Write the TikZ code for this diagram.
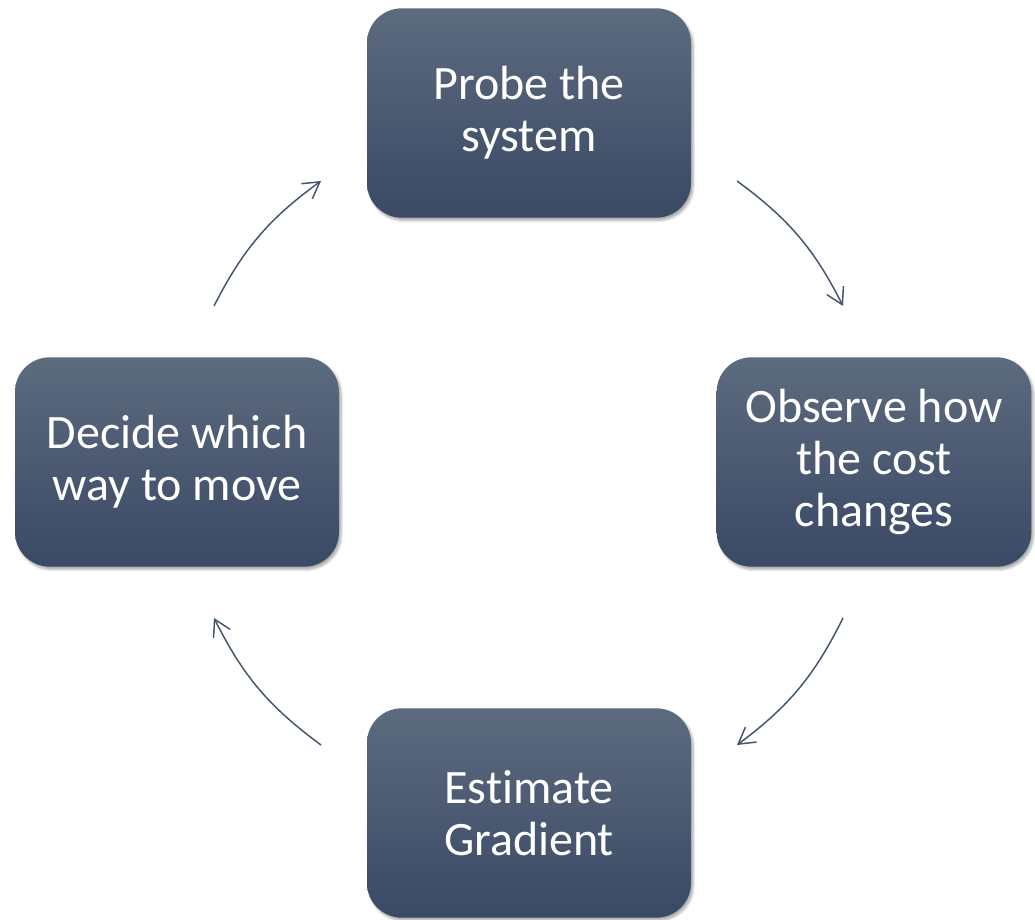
\documentclass[tikz,border=0pt]{standalone}
\usepackage{fontspec}
\setmainfont{Carlito}[Ligatures=CommonOff]
\usetikzlibrary{arrows.meta,shadows.blur}

\definecolor{boxtop}{HTML}{5D6B7F}
\definecolor{boxbot}{HTML}{3A4965}
\definecolor{loopcol}{HTML}{44546A}

\tikzset{
  stepbox/.style={rectangle, rounded corners=26pt, minimum width=243pt, minimum height=157pt,
    top color=boxtop, bottom color=boxbot, text=white, align=center,
    font=\fontsize{36}{39}\selectfont,
    blur shadow={shadow xshift=1.5pt, shadow yshift=-2pt, shadow blur steps=6, shadow opacity=35}},
  looparrow/.style={draw=loopcol, line width=1.1pt, bend left=13.5,
    -{Straight Barb[length=12pt,width=14pt]}}
}

\begin{document}
\begin{tikzpicture}[x=0.75pt,y=0.75pt]
\useasboundingbox (0,0) rectangle (1035,920);

% the four steps
\node[stepbox] (probe) at (529,807) {Probe the\\system};
\node[stepbox, minimum width=236pt] (observe) at (874,458) {Observe how\\the cost\\changes};
\node[stepbox] (estimate) at (529,107) {Estimate\\Gradient};
\node[stepbox] (decide) at (177,458) {Decide which\\way to move};

% arrow ends on a circle round the middle
\coordinate (a1) at (737,739);
\coordinate (b1) at (843,614);
\coordinate (a2) at (843,302);
\coordinate (b2) at (737,175);
\coordinate (a3) at (321,175);
\coordinate (b3) at (214,302);
\coordinate (a4) at (214,614);
\coordinate (b4) at (321,739);

\draw[looparrow] (a1) to (b1);
\draw[looparrow] (a2) to (b2);
\draw[looparrow] (a3) to (b3);
\draw[looparrow] (a4) to (b4);
\end{tikzpicture}
\end{document}
